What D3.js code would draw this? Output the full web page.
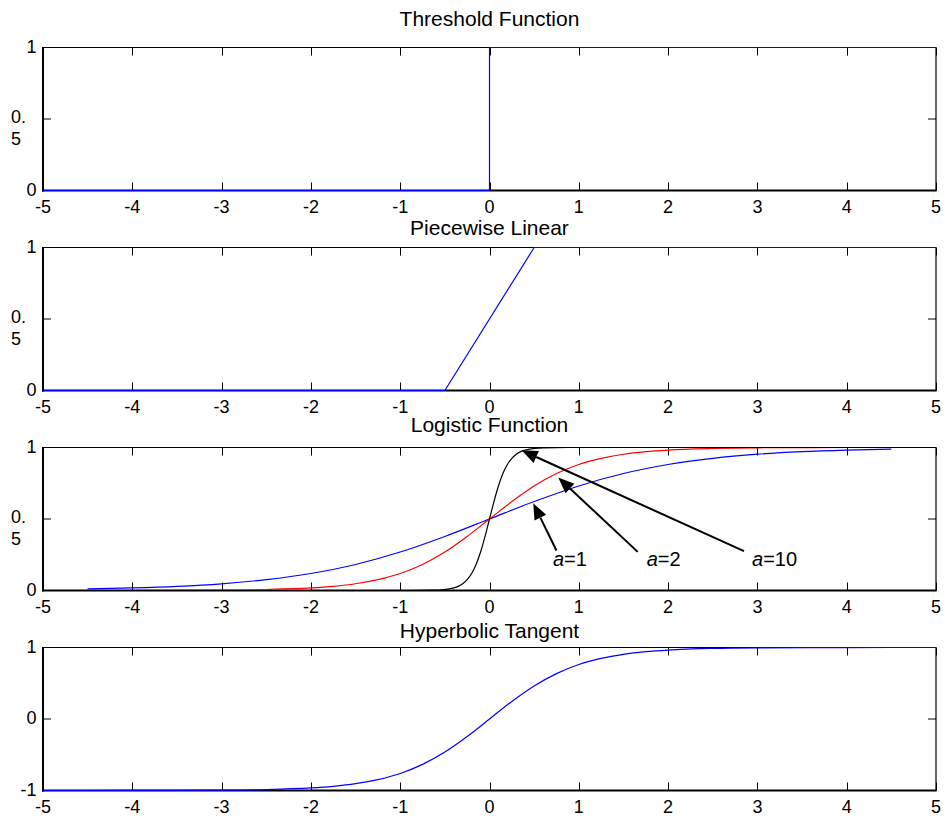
<!DOCTYPE html>
<html>
<head>
<meta charset="utf-8">
<script src="https://cdn.jsdelivr.net/npm/d3@7"></script>
<style>
  body { margin: 0; background: #fff; }
  text { font-family: "Liberation Sans", Arial, sans-serif; fill: #000; }
</style>
</head>
<body>
<svg id="chart" width="945" height="818"></svg>
<script>
// ---- data ----
const xTicks = [-5, -4, -3, -2, -1, 0, 1, 2, 3, 4, 5];
const titles = ["Threshold Function", "Piecewise Linear", "Logistic Function", "Hyperbolic Tangent"];

const unitTicks = [0, 0.5, 1];
const unitTickLabels = [["0"], ["0.", "5"], ["1"]];
const tanhTicks = [-1, 0, 1];
const tanhTickLabels = [["-1"], ["0"], ["1"]];

const thresholdX = [-5, 0, 0, 5];
const thresholdY = [0, 0, 1, 1];

const piecewiseX = [-5, -0.5, 0.5, 5];
const piecewiseY = [0, 0, 1, 1];

const logistic1X = [-4.5, -4, -3.5, -3, -2.5, -2, -1.5, -1, -0.5, 0, 0.5, 1, 1.5, 2, 2.5, 3, 3.5, 4, 4.5];
const logistic1Y = [0.011, 0.018, 0.029, 0.047, 0.076, 0.119, 0.182, 0.269, 0.378, 0.5, 0.622, 0.731, 0.818, 0.881, 0.924, 0.953, 0.971, 0.982, 0.989];

const logistic2X = [-5, -4, -3, -2.5, -2, -1.75, -1.5, -1.25, -1, -0.75, -0.5, -0.25, 0, 0.25, 0.5, 0.75, 1, 1.25, 1.5, 1.75, 2, 2.5, 3, 4, 5];
const logistic2Y = [0, 0, 0.002, 0.007, 0.018, 0.029, 0.047, 0.076, 0.119, 0.182, 0.269, 0.378, 0.5, 0.622, 0.731, 0.818, 0.881, 0.924, 0.953, 0.971, 0.982, 0.993, 0.998, 1, 1];

const logistic10X = [-5, -1, -0.6, -0.5, -0.45, -0.4, -0.35, -0.3, -0.25, -0.2, -0.15, -0.1, -0.05, 0, 0.05, 0.1, 0.15, 0.2, 0.25, 0.3, 0.35, 0.4, 0.45, 0.5, 0.6, 1, 5];
const logistic10Y = [0, 0, 0.002, 0.007, 0.011, 0.018, 0.029, 0.047, 0.076, 0.119, 0.182, 0.269, 0.378, 0.5, 0.622, 0.731, 0.818, 0.881, 0.924, 0.953, 0.971, 0.982, 0.989, 0.993, 0.998, 1, 1];

const tanhX = [-5, -4, -3, -2.5, -2, -1.75, -1.5, -1.25, -1, -0.75, -0.5, -0.25, 0, 0.25, 0.5, 0.75, 1, 1.25, 1.5, 1.75, 2, 2.5, 3, 4, 5];
const tanhY = [-1, -0.999, -0.995, -0.987, -0.964, -0.941, -0.905, -0.848, -0.762, -0.635, -0.462, -0.245, 0, 0.245, 0.462, 0.635, 0.762, 0.848, 0.905, 0.941, 0.964, 0.987, 0.995, 0.999, 1];

// arrow annotations on the logistic panel (data coordinates)
const arrowLabels = ["1", "2", "10"];
const arrowTips = [[0.49, 0.61], [0.77, 0.79], [0.36, 0.98]];
const arrowTails = [[0.75, 0.28], [1.66, 0.27], [2.85, 0.275]];
const arrowLabelAt = [[0.71, 0.168], [1.76, 0.168], [2.94, 0.168]];

// ---- layout ----
const left = 43, right = 936;
const panelTops = [47.5, 247.5, 447.5, 647.5];
const panelH = 143;
const titleGap = [22, 12.5, 16, 9.5];
const tickLen = 8;

const svg = d3.select("#chart");
const x = d3.scaleLinear().domain([-5, 5]).range([left, right]);
const zip = (xs, ys) => xs.map((v, i) => [v, ys[i]]);

const panels = [
  { domain: [0, 1], ticks: unitTicks, labels: unitTickLabels,
    series: [{ pts: zip(thresholdX, thresholdY), color: "#0000ff", curve: d3.curveLinear }] },
  { domain: [0, 1], ticks: unitTicks, labels: unitTickLabels,
    series: [{ pts: zip(piecewiseX, piecewiseY), color: "#0000ff", curve: d3.curveLinear }] },
  { domain: [0, 1], ticks: unitTicks, labels: unitTickLabels,
    series: [
      { pts: zip(logistic1X, logistic1Y), color: "#0000ff", curve: d3.curveMonotoneX },
      { pts: zip(logistic2X, logistic2Y), color: "#ff0000", curve: d3.curveMonotoneX },
      { pts: zip(logistic10X, logistic10Y), color: "#000000", curve: d3.curveMonotoneX }
    ] },
  { domain: [-1, 1], ticks: tanhTicks, labels: tanhTickLabels,
    series: [{ pts: zip(tanhX, tanhY), color: "#0000ff", curve: d3.curveMonotoneX }] }
];

panels.forEach((p, i) => {
  const top = panelTops[i], bottom = top + panelH;
  const y = d3.scaleLinear().domain(p.domain).range([bottom, top]);
  p.y = y;
  const g = svg.append("g");

  // title
  g.append("text")
    .attr("x", (left + right) / 2)
    .attr("y", top - titleGap[i])
    .attr("text-anchor", "middle")
    .style("font-size", "21px")
    .text(titles[i]);

  // frame
  g.append("line").attr("x1", left).attr("x2", right).attr("y1", top).attr("y2", top)
    .attr("stroke", "#000").attr("stroke-width", 1.2);
  g.append("line").attr("x1", right).attr("x2", right).attr("y1", top).attr("y2", bottom)
    .attr("stroke", "#000").attr("stroke-width", 1.2);
  g.append("line").attr("x1", left).attr("x2", left).attr("y1", top - 0.6).attr("y2", bottom + 1)
    .attr("stroke", "#000").attr("stroke-width", 2);
  g.append("line").attr("x1", left - 1).attr("x2", right + 0.6).attr("y1", bottom).attr("y2", bottom)
    .attr("stroke", "#000").attr("stroke-width", 2);

  // x ticks (bottom and top, inward)
  xTicks.forEach(t => {
    const px = Math.round(x(t)) + 0.5;
    g.append("line").attr("x1", px).attr("x2", px).attr("y1", bottom).attr("y2", bottom - tickLen)
      .attr("stroke", "#000").attr("stroke-width", 1);
    g.append("line").attr("x1", px).attr("x2", px).attr("y1", top).attr("y2", top + tickLen)
      .attr("stroke", "#000").attr("stroke-width", 1);
    g.append("text")
      .attr("x", x(t))
      .attr("y", bottom + 22)
      .attr("text-anchor", "middle")
      .style("font-size", "18px")
      .text(t);
  });

  // y ticks (left and right, inward)
  p.ticks.forEach((t, k) => {
    const py = y(t);
    g.append("line").attr("x1", left).attr("x2", left + tickLen).attr("y1", py).attr("y2", py)
      .attr("stroke", "#000").attr("stroke-width", 1);
    g.append("line").attr("x1", right).attr("x2", right - tickLen).attr("y1", py).attr("y2", py)
      .attr("stroke", "#000").attr("stroke-width", 1);
    const lines = p.labels[k];
    const txt = g.append("text").style("font-size", "18px");
    if (lines.length > 1) {
      txt.attr("text-anchor", "start");
      lines.forEach((ln, j) => {
        txt.append("tspan").attr("x", left - 32).attr("y", py + 4 + j * 22).text(ln);
      });
    } else {
      txt.attr("text-anchor", "end").attr("x", left - 6.5).attr("y", py + 5).text(lines[0]);
    }
  });

  // data lines
  const line = d3.line().x(d => x(d[0])).y(d => y(d[1]));
  p.series.forEach(s => {
    g.append("path")
      .attr("d", line.curve(s.curve)(s.pts))
      .attr("fill", "none")
      .attr("stroke", s.color)
      .attr("stroke-width", 1.2);
  });
});

// arrows on the logistic panel
const ly = panels[2].y;
const ag = svg.append("g");
arrowLabels.forEach((lab, i) => {
  const tx = x(arrowTips[i][0]), ty = ly(arrowTips[i][1]);
  const sx = x(arrowTails[i][0]), sy = ly(arrowTails[i][1]);
  const ang = Math.atan2(ty - sy, tx - sx);
  const headLen = 16, headHalf = 6.5;
  const bx = tx - headLen * Math.cos(ang), by = ty - headLen * Math.sin(ang);
  ag.append("line").attr("x1", sx).attr("y1", sy).attr("x2", bx).attr("y2", by)
    .attr("stroke", "#000").attr("stroke-width", 2);
  const nx = -Math.sin(ang), ny = Math.cos(ang);
  ag.append("polygon")
    .attr("points", [[tx, ty], [bx + nx * headHalf, by + ny * headHalf], [bx - nx * headHalf, by - ny * headHalf]]
      .map(p => p.join(",")).join(" "))
    .attr("fill", "#000");
  const t = ag.append("text")
    .attr("x", x(arrowLabelAt[i][0]))
    .attr("y", ly(arrowLabelAt[i][1]))
    .style("font-size", "20px");
  t.append("tspan").style("font-style", "italic").text("a");
  t.append("tspan").text("=" + lab);
});
</script>
</body>
</html>
